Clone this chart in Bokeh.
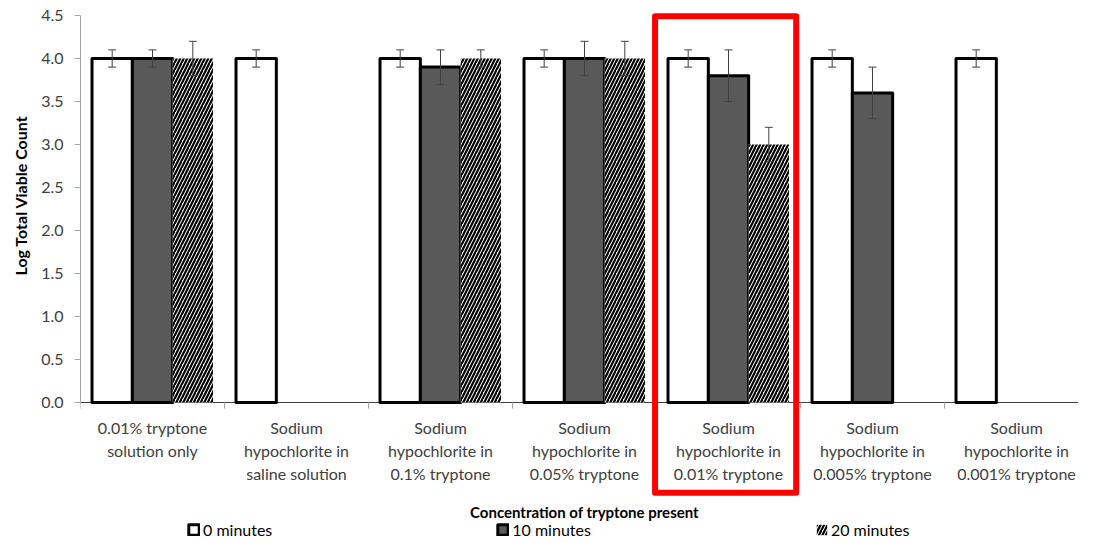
import math
from bokeh.plotting import figure
from bokeh.models import (ColumnDataSource, Whisker, TeeHead, FixedTicker, Label, Title,
                          Legend, LegendItem, Range1d, NumeralTickFormatter)
from bokeh.core.properties import value
from bokeh.embed import file_html
from bokeh.resources import INLINE

# ---------------- data ----------------
categories = [
    "0.01% tryptone\nsolution only",
    "Sodium\nhypochlorite in\nsaline solution",
    "Sodium\nhypochlorite in\n0.1% tryptone",
    "Sodium\nhypochlorite in\n0.05% tryptone",
    "Sodium\nhypochlorite in\n0.01% tryptone",
    "Sodium\nhypochlorite in\n0.005% tryptone",
    "Sodium\nhypochlorite in\n0.001% tryptone",
]
series_names = ["0 minutes", "10 minutes", "20 minutes"]
values_0min = [4.0, 4.0, 4.0, 4.0, 4.0, 4.0, 4.0]
err_0min = [0.1, 0.1, 0.1, 0.1, 0.1, 0.1, 0.1]
values_10min = [4.0, None, 3.9, 4.0, 3.8, 3.6, None]
err_10min = [0.1, None, 0.2, 0.2, 0.3, 0.3, None]
values_20min = [4.0, None, 4.0, 4.0, 3.0, None, None]
err_20min = [0.2, None, 0.1, 0.2, 0.2, None, None]
y_ticks = [0.0, 0.5, 1.0, 1.5, 2.0, 2.5, 3.0, 3.5, 4.0, 4.5]
highlighted = "Sodium\nhypochlorite in\n0.01% tryptone"
x_title = "Concentration of tryptone present"
y_title = "Log Total Viable Count"

# ---------------- layout / style ----------------
W, H = 1078, 539
LEFT = 80
PX_X = 144.0   # px per category
PX_Y = 86.0    # px per y unit
Y_TOP_PAD = 15.0
Y_ZERO_FROM_BOTTOM = 137.0
BAR_W = 0.28
FONT = "Lato"
TEXT_GREY = "#404040"
AXIS_GREY = "#A6A6A6"
DARK = "#595959"

x_end = (W - LEFT) / PX_X
y_start = -Y_ZERO_FROM_BOTTOM / PX_Y
y_end = max(y_ticks) + Y_TOP_PAD / PX_Y

p = figure(width=W, height=H, x_range=Range1d(0, x_end), y_range=Range1d(y_start, y_end),
           output_backend="svg", toolbar_location=None, x_axis_location=None,
           y_axis_location="left", min_border_left=LEFT, min_border_right=0,
           min_border_top=0, min_border_bottom=0, outline_line_color=None,
           background_fill_color="white", border_fill_color="white")
p.grid.visible = False

ax = p.yaxis[0]
ax.bounds = (min(y_ticks), max(y_ticks))
ax.ticker = FixedTicker(ticks=y_ticks)
ax.formatter = NumeralTickFormatter(format="0.0")
ax.axis_line_color = AXIS_GREY
ax.major_tick_line_color = AXIS_GREY
ax.major_tick_out = 6
ax.major_tick_in = 0
ax.minor_tick_out = 0
ax.minor_tick_in = 0
ax.major_label_text_font = FONT
ax.major_label_text_font_size = "16px"
ax.major_label_text_color = TEXT_GREY
ax.major_label_standoff = 11

# y-axis title as a side title (left panel)
p.add_layout(Title(text=y_title, align="left", offset=264, vertical_align="middle",
                   standoff=16, text_font=FONT, text_font_style="bold",
                   text_font_size="16px", text_color="black"), "left")

# x baseline and category tick marks
n = len(categories)
p.segment(x0=[0], y0=[0], x1=[x_end], y1=[0], line_color=TEXT_GREY, line_width=1)
p.segment(x0=list(range(n + 1)), y0=[0] * (n + 1), x1=list(range(n + 1)),
          y1=[-6 / PX_Y] * (n + 1), line_color=AXIS_GREY, line_width=1)

# bars
series_vals = [values_0min, values_10min, values_20min]
series_errs = [err_0min, err_10min, err_20min]
styles = [
    dict(fill_color="white", line_color="black", line_width=3),
    dict(fill_color=DARK, line_color="black", line_width=3),
    dict(fill_color="white", line_color=None, hatch_pattern="/", hatch_color="black",
         hatch_scale=7, hatch_weight=2.2),
]
renderers = []
whisker_sources = []
for j, (vals, errs) in enumerate(zip(series_vals, series_errs)):
    xs, tops, ups, lows = [], [], [], []
    for i, (v, e) in enumerate(zip(vals, errs)):
        if v is None:
            continue
        xs.append(i + 0.5 + (j - 1) * BAR_W)
        tops.append(v)
        ups.append(v + e)
        lows.append(v - e)
    src = ColumnDataSource(dict(x=xs, top=tops, upper=ups, lower=lows))
    r = p.vbar(x="x", top="top", bottom=0, width=BAR_W, source=src, line_join="round", **styles[j])
    renderers.append(r)
    whisker_sources.append(src)

for src in whisker_sources:
    w = Whisker(source=src, base="x", upper="upper", lower="lower",
                line_color=TEXT_GREY, line_width=1, level="overlay",
                upper_head=TeeHead(size=8, line_color=TEXT_GREY, line_width=1),
                lower_head=TeeHead(size=8, line_color=TEXT_GREY, line_width=1))
    p.add_layout(w)

# category labels (one text per line)
lx, ly, lt = [], [], []
for i, c in enumerate(categories):
    for k, line in enumerate(c.split("\n")):
        lx.append(i + 0.5)
        ly.append(-(25 + 23 * k) / PX_Y)
        lt.append(line)
p.text(x=lx, y=ly, text=lt, text_font=value(FONT), text_font_size="16px",
       text_color=TEXT_GREY, text_align="center", text_baseline="middle")

# highlight box
hi = categories.index(highlighted)
p.quad(left=[hi - 0.01], right=[hi + 0.97], top=[4.49], bottom=[-1.05],
       fill_color=None, line_color="#FF0000", line_width=6, line_join="round", level="overlay")

# x title
p.add_layout(Label(x=n / 2, y=-(511 - 402) / PX_Y, text=x_title, text_font=FONT,
                   text_font_style="bold", text_font_size="15px", text_align="center",
                   text_baseline="middle", text_color="black"))

legend = Legend(items=[LegendItem(label=nm, renderers=[r]) for nm, r in zip(series_names, renderers)],
                orientation="horizontal", location=(107, 0), spacing=224, padding=0, margin=0,
                glyph_width=13, glyph_height=13, label_standoff=3, label_text_font=FONT,
                label_text_font_size="16px", label_height=16, label_text_color="black",
                border_line_color=None, background_fill_alpha=0)
p.add_layout(legend)

open("out.html", "w").write(file_html(p, INLINE))
